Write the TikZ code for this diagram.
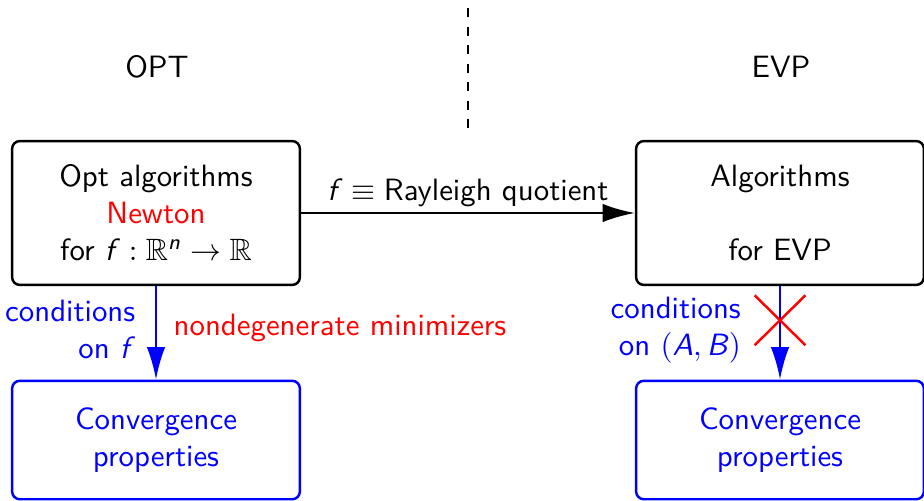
\documentclass[tikz,border=0pt]{standalone}
\usepackage{amsmath}
\usepackage{amssymb}
\usepackage{fontspec}
\usepackage{tikz}
\usetikzlibrary{positioning,arrows.meta,shapes.misc}
\newcommand{\mv}[1]{\text{\itshape #1\/}}

\begin{document}
\begin{tikzpicture}[x=0.0114cm, y=-0.0114cm, font=\sffamily,
  box/.style={draw, thick, rounded corners=2.5pt, minimum width=3.28cm, minimum height=1.64cm, align=center},
  cbox/.style={box, blue, minimum height=1.35cm},
  arr/.style={-{Latex[length=10.5pt, width=6pt]}, thick}]
\useasboundingbox (0,0) rectangle (924,500);
\draw[thick, dashed] (468,8) -- (468,133);
\node (opt) at (157,67) {OPT};
\node (evp) at (781,67) {EVP};
\node[box] (oa) at (156,213) {Opt algorithms\\ \textcolor{red}{Newton}\\ for $\mv{f}:\mathbb{R}^{\mv{n}}\to\mathbb{R}$};
\node[box] (ea) at (780,213) {Algorithms\\ \mbox{}\\ for EVP};
\node[cbox] (oc) at (156,440) {Convergence\\ properties};
\node[cbox] (ec) at (780,440) {Convergence\\ properties};
\draw[arr] (oa) -- node[above, inner sep=1.7pt] {$\mv{f}\equiv{}$Rayleigh quotient} (ea);
\draw[arr, blue] (oa) -- node[left, align=right, xshift=-3pt, yshift=1pt] {conditions\\ on $\mv{f}$}
  node[right, red, pos=0.45, xshift=2pt] {nondegenerate minimizers} (oc);
\draw[arr, blue] (ea) -- node[left, align=right, xshift=-9pt, yshift=1pt] {conditions\\ on $(\mv{A},\mv{B})$}
  node[pos=0.365, cross out, draw=red, thick, minimum width=0.55cm, minimum height=0.54cm] (no) {} (ec);
\end{tikzpicture}
\end{document}
